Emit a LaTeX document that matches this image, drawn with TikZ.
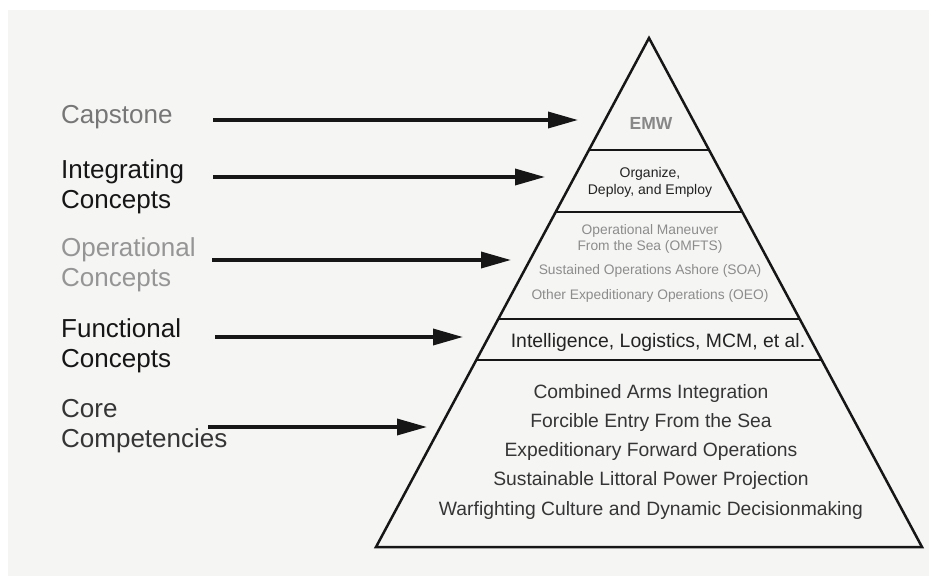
\documentclass[tikz,border=0pt]{standalone}
\usepackage{fontspec}
\setmainfont{Liberation Sans}
\usetikzlibrary{arrows.meta,calc}
\definecolor{bgc}{HTML}{F5F5F4}
\definecolor{inkc}{HTML}{161616}
\definecolor{capc}{HTML}{767676}
\definecolor{opc}{HTML}{959595}
\definecolor{corec}{HTML}{353535}
\definecolor{emwc}{HTML}{888888}
\definecolor{orgc}{HTML}{232323}
\definecolor{omc}{HTML}{8C8C8C}
\begin{document}
\begin{tikzpicture}[x=1pt,y=-1pt,
  lbl/.style={anchor=base west, align=left, inner sep=0pt, font=\fontsize{26}{30}\selectfont},
  tier/.style={anchor=base, align=center, inner sep=0pt},
  conn/.style={line width=3.5pt, draw=inkc, -{Triangle[length=30pt,width=16pt]}},
  pyrline/.style={line width=2.5pt, draw=inkc}]
\useasboundingbox (0,0) rectangle (929,576);
\fill[white] (0,0) rectangle (929,576);
\fill[bgc] (8,10) rectangle (929,576);

% pyramid outline
\coordinate (apex) at (649,38);
\coordinate (bl) at (376,547);
\coordinate (br) at (922,547);
\draw[pyrline, line join=miter] (apex) -- (br) -- (bl) -- cycle;
\foreach \t in {0.2200,0.3418,0.5521,0.6326}{
  \draw[pyrline] ($(apex)!\t!(bl)$) -- ($(apex)!\t!(br)$);
}

% left labels (anchor = baseline of the last line)
\node[lbl, text=capc] (capstone) at (61,123) {Capstone};
\node[lbl, text=inkc] (integ) at (61,208) {Integrating\\Concepts};
\node[lbl, text=opc] (oper) at (61,286) {Operational\\Concepts};
\node[lbl, text=inkc] (func) at (61,367) {Functional\\Concepts};
\node[lbl, text=corec] (core) at (61,447) {Core\\Competencies};

% tier texts (anchor = baseline of the last line)
\node[tier, font=\bfseries\fontsize{17.5}{20}\selectfont, text=emwc] (emw) at (651,129) {EMW};
\node[tier, font=\fontsize{14}{17}\selectfont, text=orgc] (ode) at (650,194) {Organize,\\Deploy, and Employ};
\node[tier, font=\fontsize{13.8}{16.7}\selectfont, text=omc] (omfts) at (650,299)
  {Operational Maneuver\\From the Sea (OMFTS)\\[6.6pt]Sustained Operations Ashore (SOA)\\[8.3pt]Other Expeditionary Operations (OEO)};
\node[tier, font=\fontsize{19.4}{22}\selectfont, text=orgc] (intel) at (658,347) {Intelligence, Logistics, MCM, et al.};
\node[tier, font=\fontsize{19.3}{29.2}\selectfont, text=corec] (corelist) at (651,515)
  {Combined Arms Integration\\Forcible Entry From the Sea\\Expeditionary Forward Operations\\Sustainable Littoral Power Projection\\Warfighting Culture and Dynamic Decisionmaking};

% connectors
\coordinate (t1) at (213,120); \coordinate (h1) at (578,120);
\coordinate (t2) at (213,177); \coordinate (h2) at (545,177);
\coordinate (t3) at (212,260); \coordinate (h3) at (511,260);
\coordinate (t4) at (215,337); \coordinate (h4) at (463,337);
\coordinate (t5) at (208,427); \coordinate (h5) at (427,427);
\foreach \i in {1,...,5}{\draw[conn] (t\i) -- (h\i);}
\end{tikzpicture}
\end{document}
